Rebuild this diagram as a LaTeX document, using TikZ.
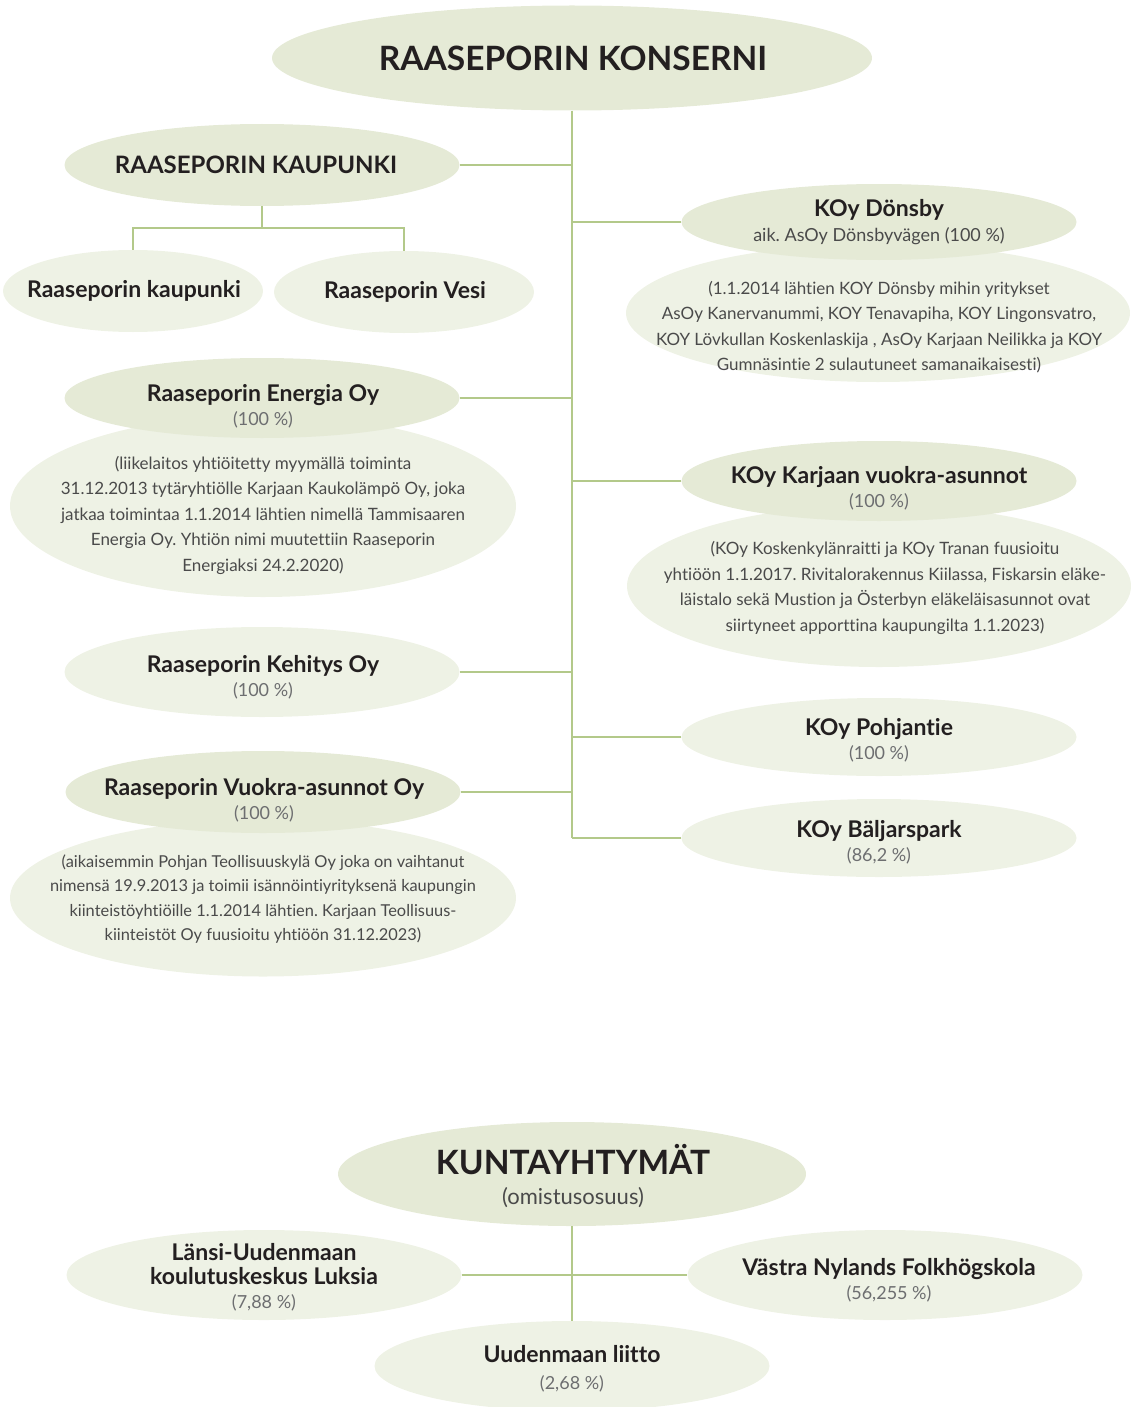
\documentclass[tikz,border=0pt]{standalone}
\usepackage{fontspec}
\setmainfont{Lato}[Ligatures=NoCommon]
\frenchspacing
\usetikzlibrary{shapes.geometric}
\definecolor{ellA}{HTML}{E5EAD6}
\definecolor{ellB}{HTML}{EEF2E5}
\definecolor{linec}{HTML}{B3C98A}
\definecolor{txt}{HTML}{231F20}
\definecolor{pct}{HTML}{6D6E70}
\definecolor{desc}{HTML}{4A4A4A}
\newcommand{\pctt}[1]{{\color{pct}\mdseries\fontsize{18}{23}\selectfont #1}}
\tikzset{
  ell/.style={ellipse, inner sep=0pt, draw=none},
  ellmain/.style={ell, fill=ellA},
  elllight/.style={ell, fill=ellB},
  conn/.style={draw=linec, line width=2pt},
  bigttl/.style={font=\bfseries\fontsize{33.5}{38}\selectfont, text=txt, align=center},
  capttl/.style={font=\bfseries\fontsize{24}{28}\selectfont, text=txt, align=center},
  ttl/.style={font=\bfseries\fontsize{23}{24}\selectfont, text=txt, align=center, inner sep=0pt},
  desctxt/.style={font=\fontsize{17}{25.5}\selectfont, text=desc, align=center, inner sep=0pt},
}
\begin{document}
\begin{tikzpicture}[x=1pt,y=-1pt]
\useasboundingbox (0,0) rectangle (1130,1407);
% ---------- top ----------
\node[ellmain, minimum width=600pt, minimum height=105pt] (konserni) at (572,58) {};
\node[bigttl] (konsernit) at (573,58) {RAASEPORIN KONSERNI};
\coordinate (trunkend) at (572,838);
\draw[conn] (konserni.south) -- (trunkend);

% Raaseporin kaupunki group
\node[ellmain, minimum width=395pt, minimum height=82pt] (kaup) at (262,165) {};
\node[capttl] (kaupt) at (256,165) {RAASEPORIN KAUPUNKI};
\node[elllight, minimum width=260pt, minimum height=82pt] (rk) at (133,291) {};
\node[ttl] (rkt) at (134,291) {Raaseporin kaupunki};
\node[elllight, minimum width=260pt, minimum height=82pt] (vesi) at (404,292) {};
\node[ttl] (vesit) at (405,292) {Raaseporin Vesi};
\coordinate (kaupjoin) at (262,228);
\draw[conn] (kaup.east) -- (kaup.east -| konserni.south);
\draw[conn] (kaup.south) -- (kaupjoin) -| (rk.north);
\draw[conn] (kaupjoin) -| (vesi.north);

% Dönsby
\node[elllight, minimum width=504pt, minimum height=138pt] (donsd) at (878,313) {};
\node[ellmain, minimum width=395pt, minimum height=76pt] (dons) at (879,222) {};
\node[ttl] (donst) at (879,222) {KOy Dönsby\\[1pt]{\color{desc}\mdseries\fontsize{18}{23}\selectfont aik. AsOy Dönsbyvägen (100 \%)}};
\node[desctxt] (donsdt) at (879,327) {(1.1.2014 lähtien KOY Dönsby mihin yritykset\\AsOy Kanervanummi, KOY Tenavapiha, KOY Lingonsvatro,\\KOY Lövkullan Koskenlaskija , AsOy Karjaan Neilikka ja KOY\\Gumnäsintie 2 sulautuneet samanaikaisesti)};
\draw[conn] (dons.west) -- (dons.west -| konserni.south);

% Energia
\node[elllight, minimum width=506pt, minimum height=182pt] (enerd) at (263,506) {};
\node[ellmain, minimum width=395pt, minimum height=80pt] (ener) at (262,398) {};
\node[ttl] (enert) at (263,406) {Raaseporin Energia Oy\\\pctt{(100 \%)}};
\node[desctxt] (enerdt) at (263,515) {(liikelaitos yhtiöitetty myymällä toiminta\\31.12.2013 tytäryhtiölle Karjaan Kaukolämpö Oy, joka\\jatkaa toimintaa 1.1.2014 lähtien nimellä Tammisaaren\\Energia Oy. Yhtiön nimi muutettiin Raaseporin\\Energiaksi 24.2.2020)};
\draw[conn] (ener.east) -- (ener.east -| konserni.south);

% Karjaan vuokra-asunnot
\node[elllight, minimum width=504pt, minimum height=162pt] (karjd) at (879,586) {};
\node[ellmain, minimum width=395pt, minimum height=80pt] (karj) at (879,481) {};
\node[ttl] (karjt) at (879,488) {KOy Karjaan vuokra-asunnot\\\pctt{(100 \%)}};
\node[desctxt] (karjdt) at (885,588) {(KOy Koskenkylänraitti ja KOy Tranan fuusioitu\\yhtiöön 1.1.2017. Rivitalorakennus Kiilassa, Fiskarsin eläke-\\läistalo sekä Mustion ja Österbyn eläkeläisasunnot ovat\\siirtyneet apporttina kaupungilta 1.1.2023)};
\draw[conn] (karj.west) -- (karj.west -| konserni.south);

% Kehitys
\node[elllight, minimum width=395pt, minimum height=90pt] (kehi) at (262,672) {};
\node[ttl] (kehit) at (263,677) {Raaseporin Kehitys Oy\\\pctt{(100 \%)}};
\draw[conn] (kehi.east) -- (kehi.east -| konserni.south);

% Pohjantie
\node[elllight, minimum width=395pt, minimum height=78pt] (pohj) at (879,737) {};
\node[ttl] (pohjt) at (879,740) {KOy Pohjantie\\\pctt{(100 \%)}};
\draw[conn] (pohj.west) -- (pohj.west -| konserni.south);

% Vuokra-asunnot
\node[elllight, minimum width=506pt, minimum height=157pt] (vuokd) at (263,898) {};
\node[ellmain, minimum width=395pt, minimum height=82pt] (vuok) at (263,792) {};
\node[ttl] (vuokt) at (264,800) {Raaseporin Vuokra-asunnot Oy\\\pctt{(100 \%)}};
\node[desctxt, font=\fontsize{16.4}{24.6}\selectfont] (vuokdt) at (263,899) {(aikaisemmin Pohjan Teollisuuskylä Oy joka on vaihtanut\\nimensä 19.9.2013 ja toimii isännöintiyrityksenä kaupungin\\kiinteistöyhtiöille 1.1.2014 lähtien. Karjaan Teollisuus-\\kiinteistöt Oy fuusioitu yhtiöön 31.12.2023)};
\draw[conn] (vuok.east) -- (vuok.east -| konserni.south);

% Bäljarspark
\node[elllight, minimum width=395pt, minimum height=78pt] (balj) at (879,838) {};
\node[ttl] (baljt) at (879,842) {KOy Bäljarspark\\\pctt{(86,2 \%)}};
\draw[conn] (balj.west) -- (trunkend);

% ---------- bottom ----------
\node[ellmain, minimum width=468pt, minimum height=104pt] (kunta) at (572,1174) {};
\node[bigttl] (kuntat) at (573,1176) {KUNTAYHTYMÄT\\[-8pt]{\mdseries\color{desc}\fontsize{22}{24}\selectfont (omistusosuus)}};
\node[elllight, minimum width=395pt, minimum height=90pt] (lansi) at (264,1275) {};
\node[ttl] (lansit) at (264,1277) {Länsi-Uudenmaan\\koulutuskeskus Luksia\\\pctt{(7,88 \%)}};
\node[elllight, minimum width=395pt, minimum height=90pt] (vastra) at (885,1275) {};
\node[ttl] (vastrat) at (889,1280) {Västra Nylands Folkhögskola\\\pctt{(56,255 \%)}};
\node[elllight, minimum width=395pt, minimum height=90pt] (liitto) at (572,1366) {};
\node[ttl] (liittot) at (572,1369) {Uudenmaan liitto\\[3pt]\pctt{(2,68 \%)}};
\draw[conn] (kunta.south) -- (liitto.north);
\draw[conn] (lansi.east) -- (vastra.west);
\end{tikzpicture}
\end{document}
